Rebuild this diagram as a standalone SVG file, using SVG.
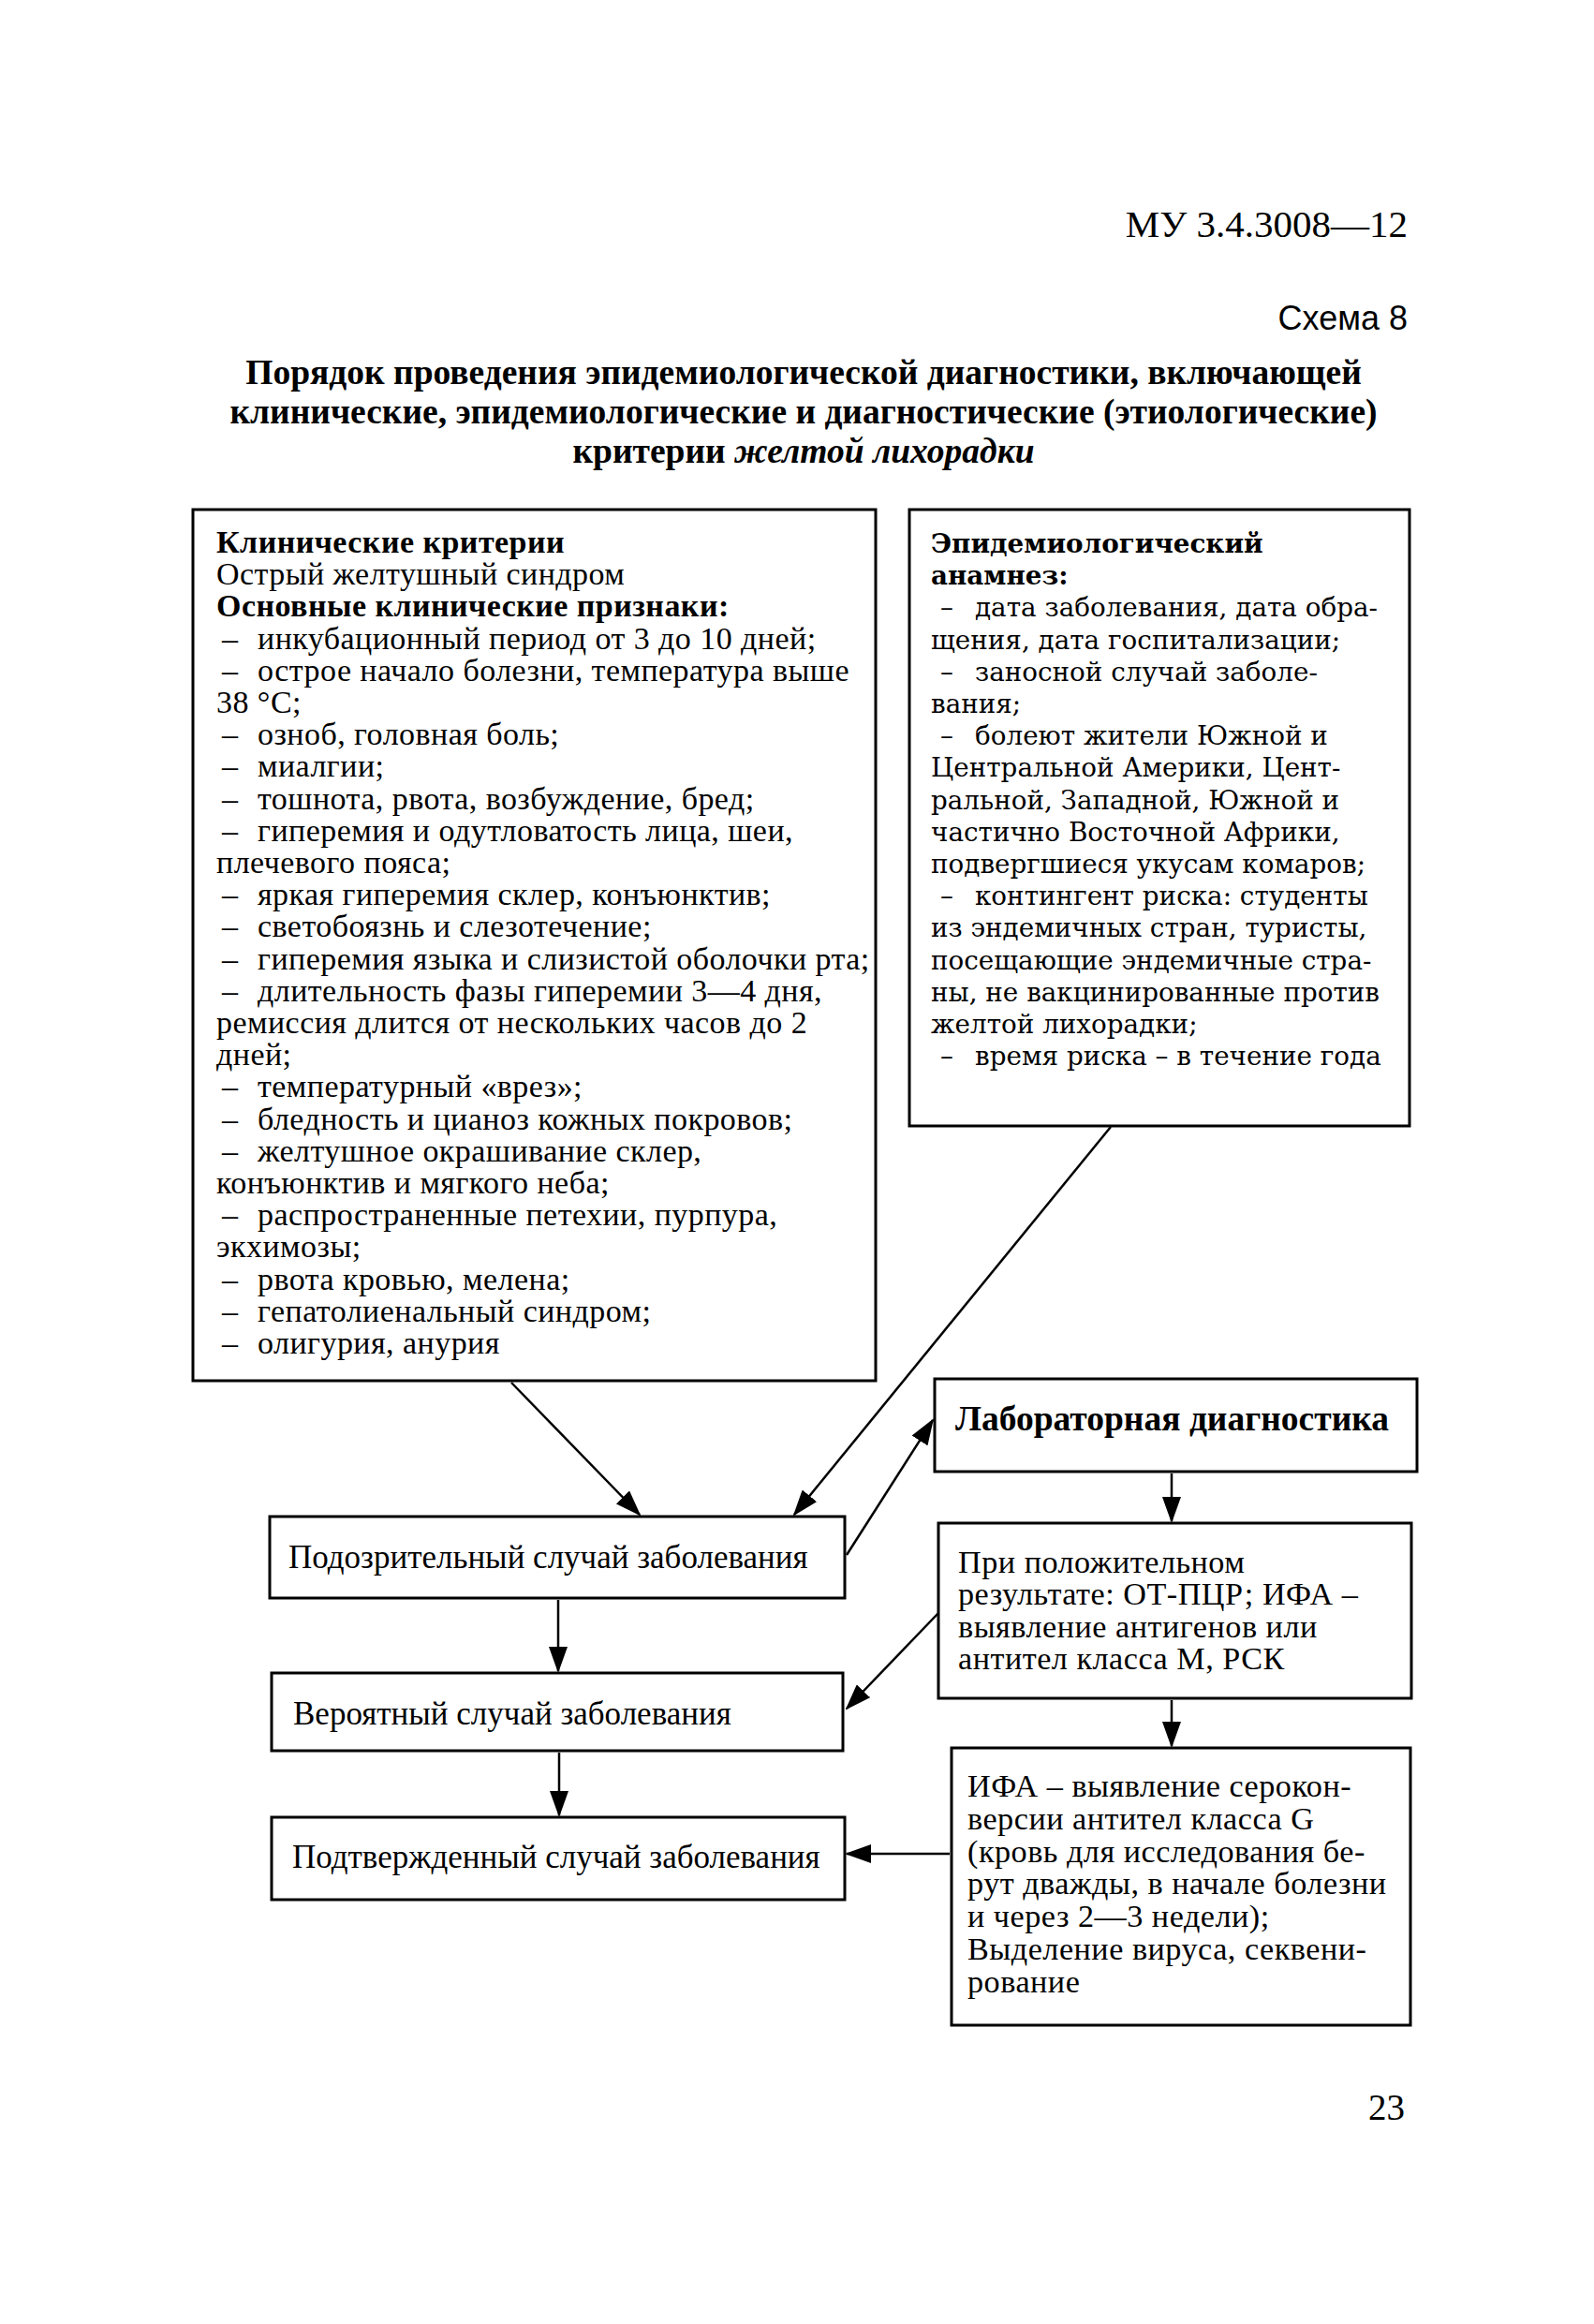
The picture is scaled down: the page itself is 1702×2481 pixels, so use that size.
<svg xmlns="http://www.w3.org/2000/svg" width="1702" height="2481" viewBox="0 0 1702 2481">
<style>
.t{font-family:"Liberation Serif","Times New Roman",serif;font-size:35px;fill:#000}
.c{font-family:"Liberation Serif","Times New Roman",serif;font-size:34px;letter-spacing:0.45px;fill:#000}
.t2{font-family:"Liberation Serif","Times New Roman",serif;font-size:34.2px;letter-spacing:0.5px;fill:#000}
.b{font-weight:bold}
.e{font-family:"DejaVu Serif",serif;font-size:27.8px;fill:#000}
.box{fill:#fff;stroke:#000;stroke-width:3}
.ln{stroke:#000;stroke-width:2.5;fill:none}
</style>
<defs>
<marker id="ah" markerUnits="userSpaceOnUse" markerWidth="28" markerHeight="20" refX="26" refY="10" orient="auto">
<path d="M0,0 L28,10 L0,20 Z" fill="#000"/>
</marker>
</defs>
<rect width="1702" height="2481" fill="#fff"/>
<g id="header">
<text x="1503" y="253" style="font-family:'Liberation Serif','Times New Roman',serif;font-size:41px" text-anchor="end">МУ 3.4.3008—12</text>
<text x="1503" y="352" style="font-family:'Liberation Sans',Arial,sans-serif;font-size:36px" text-anchor="end">Схема 8</text>
<g style="font-family:'Liberation Serif','Times New Roman',serif;font-size:37.5px;font-weight:bold" text-anchor="middle">
<text x="858" y="410">Порядок проведения  эпидемиологической диагностики, включающей</text>
<text x="858" y="452">клинические, эпидемиологические и диагностические (этиологические)</text>
<text x="858" y="494">критерии <tspan font-style="italic">желтой лихорадки</tspan></text>
</g>
</g>
<g id="clinical">
<rect class="box" x="206" y="544" width="729" height="930"/>
<text class="c">
<tspan x="231" y="590" class="b">Клинические критерии</tspan>
<tspan x="231" dy="34.2">Острый желтушный синдром</tspan>
<tspan x="231" dy="34.2" class="b">Основные клинические признаки:</tspan>
<tspan x="237" dy="34.2">–</tspan><tspan x="275">инкубационный период от 3 до 10 дней;</tspan>
<tspan x="237" dy="34.2">–</tspan><tspan x="275">острое начало болезни, температура выше</tspan>
<tspan x="231" dy="34.2">38 °С;</tspan>
<tspan x="237" dy="34.2">–</tspan><tspan x="275">озноб, головная боль;</tspan>
<tspan x="237" dy="34.2">–</tspan><tspan x="275">миалгии;</tspan>
<tspan x="237" dy="34.2">–</tspan><tspan x="275">тошнота, рвота, возбуждение, бред;</tspan>
<tspan x="237" dy="34.2">–</tspan><tspan x="275">гиперемия и одутловатость лица, шеи,</tspan>
<tspan x="231" dy="34.2">плечевого пояса;</tspan>
<tspan x="237" dy="34.2">–</tspan><tspan x="275">яркая гиперемия склер, конъюнктив;</tspan>
<tspan x="237" dy="34.2">–</tspan><tspan x="275">светобоязнь и слезотечение;</tspan>
<tspan x="237" dy="34.2">–</tspan><tspan x="275">гиперемия языка и слизистой оболочки рта;</tspan>
<tspan x="237" dy="34.2">–</tspan><tspan x="275">длительность фазы гиперемии 3—4 дня,</tspan>
<tspan x="231" dy="34.2">ремиссия длится от нескольких часов до 2</tspan>
<tspan x="231" dy="34.2">дней;</tspan>
<tspan x="237" dy="34.2">–</tspan><tspan x="275">температурный «врез»;</tspan>
<tspan x="237" dy="34.2">–</tspan><tspan x="275">бледность и цианоз кожных покровов;</tspan>
<tspan x="237" dy="34.2">–</tspan><tspan x="275">желтушное окрашивание склер,</tspan>
<tspan x="231" dy="34.2">конъюнктив и мягкого неба;</tspan>
<tspan x="237" dy="34.2">–</tspan><tspan x="275">распространенные петехии, пурпура,</tspan>
<tspan x="231" dy="34.2">экхимозы;</tspan>
<tspan x="237" dy="34.2">–</tspan><tspan x="275">рвота кровью, мелена;</tspan>
<tspan x="237" dy="34.2">–</tspan><tspan x="275">гепатолиенальный синдром;</tspan>
<tspan x="237" dy="34.2">–</tspan><tspan x="275">олигурия, анурия</tspan>
</text>
</g>
<g id="epidemiological">
<rect class="box" x="971" y="544" width="534" height="658"/>
<text class="e">
<tspan x="994" y="590" font-weight="bold">Эпидемиологический</tspan>
<tspan x="994" dy="34.2" font-weight="bold">анамнез:</tspan>
<tspan x="1004" dy="34.2">–</tspan><tspan x="1041">дата заболевания, дата обра-</tspan>
<tspan x="994" dy="34.2">щения, дата госпитализации;</tspan>
<tspan x="1004" dy="34.2">–</tspan><tspan x="1041">заносной случай заболе-</tspan>
<tspan x="994" dy="34.2">вания;</tspan>
<tspan x="1004" dy="34.2">–</tspan><tspan x="1041">болеют жители Южной и</tspan>
<tspan x="994" dy="34.2">Центральной Америки, Цент-</tspan>
<tspan x="994" dy="34.2">ральной, Западной, Южной и</tspan>
<tspan x="994" dy="34.2">частично Восточной Африки,</tspan>
<tspan x="994" dy="34.2">подвергшиеся укусам комаров;</tspan>
<tspan x="1004" dy="34.2">–</tspan><tspan x="1041">контингент риска: студенты</tspan>
<tspan x="994" dy="34.2">из эндемичных стран, туристы,</tspan>
<tspan x="994" dy="34.2">посещающие эндемичные стра-</tspan>
<tspan x="994" dy="34.2">ны, не вакцинированные против</tspan>
<tspan x="994" dy="34.2">желтой лихорадки;</tspan>
<tspan x="1004" dy="34.2">–</tspan><tspan x="1041">время риска – в течение года</tspan>
</text>
</g>
<g id="lab">
<rect class="box" x="998" y="1472" width="515" height="99"/>
<text x="1020" y="1527" style="font-family:'Liberation Serif','Times New Roman',serif;font-size:37.5px;font-weight:bold">Лабораторная диагностика</text>
</g>
<g id="suspected">
<rect class="box" x="288" y="1619" width="614" height="87"/>
<text class="t" x="308" y="1674">Подозрительный случай заболевания</text>
</g>
<g id="positive">
<rect class="box" x="1002" y="1626" width="505" height="187"/>
<text class="t2">
<tspan x="1023" y="1679">При положительном</tspan>
<tspan x="1023" dy="34.3">результате: ОТ-ПЦР; ИФА –</tspan>
<tspan x="1023" dy="34.3">выявление антигенов или</tspan>
<tspan x="1023" dy="34.3">антител класса М, РСК</tspan>
</text>
</g>
<g id="probable">
<rect class="box" x="290" y="1786" width="610" height="83"/>
<text class="t" x="313" y="1841">Вероятный случай заболевания</text>
</g>
<g id="confirmed">
<rect class="box" x="290" y="1940" width="612" height="88"/>
<text class="t" x="312" y="1994">Подтвержденный случай заболевания</text>
</g>
<g id="ifa">
<rect class="box" x="1016" y="1866" width="490" height="296"/>
<text class="t2">
<tspan x="1033" y="1918">ИФА – выявление серокон-</tspan>
<tspan x="1033" dy="34.8">версии антител класса G</tspan>
<tspan x="1033" dy="34.8">(кровь для исследования бе-</tspan>
<tspan x="1033" dy="34.8">рут дважды, в начале болезни</tspan>
<tspan x="1033" dy="34.8">и через 2—3 недели);</tspan>
<tspan x="1033" dy="34.8">Выделение вируса, секвени-</tspan>
<tspan x="1033" dy="34.8">рование</tspan>
</text>
</g>
<g id="connectors">
<line class="ln" x1="546" y1="1476" x2="683" y2="1617" marker-end="url(#ah)"/>
<line class="ln" x1="1186" y1="1203" x2="848" y2="1617" marker-end="url(#ah)"/>
<line class="ln" x1="904" y1="1660" x2="996" y2="1516" marker-end="url(#ah)"/>
<line class="ln" x1="1251" y1="1573" x2="1251" y2="1624" marker-end="url(#ah)"/>
<line class="ln" x1="1002" y1="1722" x2="904" y2="1824" marker-end="url(#ah)"/>
<line class="ln" x1="596" y1="1708" x2="596" y2="1784" marker-end="url(#ah)"/>
<line class="ln" x1="1251" y1="1815" x2="1251" y2="1864" marker-end="url(#ah)"/>
<line class="ln" x1="597" y1="1871" x2="597" y2="1938" marker-end="url(#ah)"/>
<line class="ln" x1="1014" y1="1979" x2="904" y2="1979" stroke-width="5" marker-end="url(#ah)"/>
</g>
<text x="1500" y="2263" style="font-family:'Liberation Serif','Times New Roman',serif;font-size:39px" text-anchor="end">23</text>
</svg>
